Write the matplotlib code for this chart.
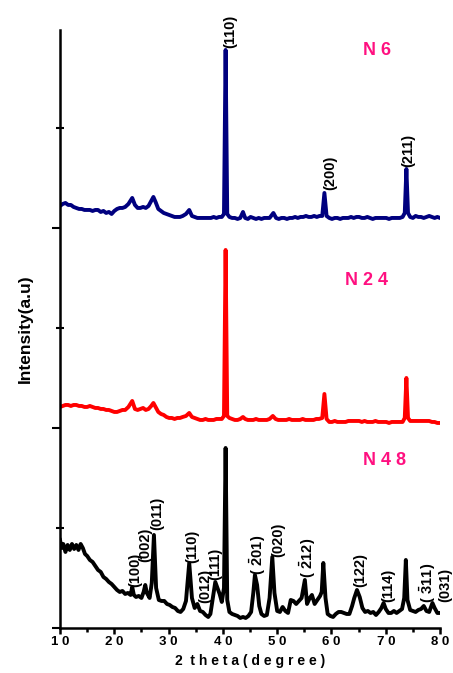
import numpy as np
import matplotlib
matplotlib.use('Agg')
import matplotlib.pyplot as plt
from matplotlib.ticker import MultipleLocator, FuncFormatter

plt.rcParams['font.family'] = ['Liberation Sans', 'DejaVu Sans']
plt.rcParams['mathtext.fontset'] = 'custom'
plt.rcParams['mathtext.rm'] = 'Liberation Sans'
plt.rcParams['mathtext.bf'] = 'Liberation Sans:bold'

# XRD patterns: (2 theta, intensity with stacking offset)
n6_pattern = [
    (10, 422), (10.5, 424), (11, 425), (11.5, 423), (12, 423), (12.5, 421), (13, 420), (13.5, 419),
    (14, 419), (14.5, 418), (15, 418), (15.5, 418), (16, 417), (16.5, 418), (17, 418), (17.5, 416),
    (18, 417), (18.5, 415), (19, 416), (19.5, 414), (20, 417), (20.5, 419), (21, 420), (21.5, 420),
    (22, 421), (22.6, 424), (23.3, 430), (23.8, 423), (24.3, 420), (24.8, 420), (25.3, 421), (25.8, 420),
    (26.3, 422), (26.8, 427), (27.2, 431), (27.6, 426), (28.1, 419), (28.6, 417), (29.1, 415), (29.6, 414),
    (30.1, 413), (30.6, 412), (31.1, 411), (31.6, 411), (32.1, 411), (32.6, 412), (33.2, 414), (33.8, 418),
    (34.3, 412), (34.8, 411), (35.3, 410), (35.8, 410), (36.3, 410), (36.8, 410), (37.3, 410), (37.8, 410),
    (38.3, 411), (38.8, 410), (39.3, 411), (39.8, 411), (40.2, 414), (40.5, 578), (40.8, 414), (41.2, 411),
    (41.7, 410), (42.2, 410), (42.7, 409), (43.2, 410), (43.7, 416), (44.1, 410), (44.6, 409), (45.1, 411),
    (45.6, 410), (46.1, 409), (46.6, 410), (47.1, 409), (47.6, 410), (48.1, 410), (48.6, 410), (49.3, 415),
    (49.8, 410), (50.3, 409), (50.8, 410), (51.3, 410), (51.8, 409), (52.3, 410), (52.8, 410), (53.3, 411),
    (53.8, 410), (54.3, 411), (54.8, 411), (55.3, 412), (55.8, 411), (56.3, 411), (56.8, 412), (57.3, 411),
    (57.8, 412), (58.3, 412), (58.7, 435), (59.1, 412), (59.6, 410), (60.1, 409), (60.6, 410), (61.1, 410),
    (61.6, 409), (62.1, 410), (62.6, 410), (63.1, 410), (63.6, 411), (64.1, 410), (64.6, 411), (65.1, 411),
    (65.6, 410), (66.1, 410), (66.6, 411), (67.1, 410), (67.6, 409), (68.1, 410), (68.6, 410), (69.1, 410),
    (69.6, 410), (70.1, 410), (70.6, 409), (71.1, 410), (71.6, 410), (72.1, 410), (72.6, 410), (73.1, 411),
    (73.5, 415), (73.8, 459), (74.1, 415), (74.5, 411), (75.0, 410), (75.5, 412), (76.0, 411), (76.5, 411),
    (77.0, 410), (77.5, 411), (78.0, 412), (78.5, 411), (79.0, 410), (79.5, 411), (80, 410),
]

n24_pattern = [
    (10, 221), (10.5, 222), (11, 223), (11.5, 223), (12, 222), (12.5, 223), (13, 223), (13.5, 222),
    (14, 222), (14.5, 221), (15, 221), (15.5, 222), (16, 221), (16.5, 220), (17, 220), (17.5, 219),
    (18, 219), (18.5, 218), (19, 218), (19.5, 217), (20, 216), (20.5, 216), (21, 217), (21.5, 218),
    (22, 218), (22.6, 221), (23.3, 227), (23.8, 219), (24.3, 218), (24.8, 219), (25.3, 220), (25.8, 218),
    (26.3, 219), (26.8, 222), (27.2, 225), (27.6, 221), (28.1, 216), (28.6, 214), (29.1, 213), (29.6, 211),
    (30.1, 210), (30.6, 210), (31.1, 209), (31.6, 210), (32.1, 210), (32.6, 211), (33.2, 212), (33.8, 215),
    (34.3, 211), (34.8, 210), (35.3, 209), (35.8, 208), (36.3, 208), (36.8, 209), (37.3, 208), (37.8, 208),
    (38.3, 208), (38.8, 209), (39.3, 209), (39.8, 209), (40.2, 212), (40.5, 378), (40.8, 212), (41.2, 210),
    (41.7, 209), (42.2, 208), (42.7, 208), (43.2, 209), (43.7, 211), (44.1, 209), (44.6, 208), (45.1, 208),
    (45.6, 208), (46.1, 209), (46.6, 208), (47.1, 208), (47.6, 208), (48.1, 208), (48.6, 209), (49.2, 212),
    (49.7, 209), (50.2, 208), (50.7, 208), (51.2, 208), (51.7, 208), (52.2, 209), (52.7, 208), (53.2, 208),
    (53.7, 208), (54.2, 208), (54.7, 209), (55.2, 208), (55.7, 208), (56.2, 208), (56.7, 208), (57.2, 209),
    (57.7, 209), (58.3, 210), (58.7, 234), (59.1, 209), (59.6, 206), (60.1, 206), (60.6, 207), (61.1, 206),
    (61.6, 206), (62.1, 206), (62.6, 206), (63.1, 207), (63.6, 207), (64.1, 207), (64.6, 207), (65.1, 207),
    (65.6, 206), (66.1, 207), (66.6, 206), (67.1, 206), (67.6, 206), (68.1, 207), (68.6, 206), (69.1, 206),
    (69.6, 206), (70.1, 206), (70.6, 205), (71.1, 206), (71.6, 206), (72.1, 206), (72.6, 206), (73.1, 206),
    (73.5, 210), (73.8, 250), (74.1, 210), (74.5, 207), (75.0, 207), (75.5, 207), (76.0, 207), (76.5, 207),
    (77.0, 207), (77.5, 207), (78.0, 207), (78.5, 206), (79.0, 206), (79.5, 205), (80, 205),
]

n48_pattern = [
    (10, 88), (10.3, 80), (10.6, 84), (11, 76), (11.4, 83), (11.8, 78), (12.2, 84), (12.6, 79),
    (13, 83), (13.4, 78), (13.8, 84), (14.2, 80), (14.6, 74), (15, 72), (15.5, 68), (16, 66),
    (16.5, 62), (17, 58), (17.5, 56), (18, 51), (18.5, 49), (19, 46), (19.5, 44), (20, 41),
    (20.5, 38), (21, 36), (21.5, 37), (22, 34), (22.5, 35), (23, 33), (23.3, 41), (23.6, 33),
    (24, 31), (24.5, 32), (25, 30), (25.4, 36), (25.7, 43), (26.0, 35), (26.5, 30), (26.9, 45),
    (27.3, 93), (27.7, 40), (28.2, 28), (28.7, 27), (29.2, 27), (29.7, 24), (30.2, 23), (30.7, 21),
    (31.2, 20), (31.7, 17), (32.2, 16), (32.7, 19), (33.2, 27), (33.8, 65), (34.3, 30), (34.8, 20),
    (35.3, 24), (35.8, 17), (36.3, 16), (36.8, 13), (37.3, 11), (37.7, 14), (38.1, 28), (38.6, 46),
    (39.0, 40), (39.4, 34), (39.8, 26), (40.2, 40), (40.5, 180), (40.8, 28), (41.2, 16), (41.7, 14),
    (42.2, 13), (42.7, 12), (43.2, 10), (43.7, 11), (44.2, 10), (44.7, 12), (45.2, 16), (45.6, 35),
    (45.9, 53), (46.3, 43), (46.7, 22), (47.1, 14), (47.6, 12), (48.1, 13), (48.6, 30), (49.1, 71),
    (49.5, 35), (50.0, 17), (50.5, 16), (51.0, 21), (51.5, 17), (52.0, 15), (52.5, 28), (53.0, 27),
    (53.5, 24), (54.0, 27), (54.5, 30), (55.1, 48), (55.5, 24), (56.0, 30), (56.4, 33), (56.9, 24),
    (57.4, 28), (57.9, 32), (58.2, 36), (58.5, 65), (58.9, 30), (59.3, 14), (59.8, 12), (60.3, 11),
    (60.8, 14), (61.3, 16), (61.8, 16), (62.3, 15), (62.8, 14), (63.3, 14), (63.8, 22), (64.2, 30),
    (64.7, 38), (65.2, 31), (65.7, 20), (66.2, 16), (66.7, 17), (67.2, 15), (67.7, 16), (68.2, 13),
    (68.7, 16), (69.2, 20), (69.6, 25), (70.0, 19), (70.5, 15), (71.0, 15), (71.5, 17), (72.0, 15),
    (72.5, 17), (73.0, 19), (73.4, 30), (73.7, 68), (74.0, 28), (74.5, 18), (75.0, 17), (75.5, 16),
    (76.0, 18), (76.5, 19), (77.0, 22), (77.5, 17), (78.0, 16), (78.6, 25), (79.0, 20), (79.5, 15),
    (80, 15),
]

# Miller index labels: (text, 2theta, label base height)
n6_labels = [('(110)', 41.3, 580), ('(200)', 59.7, 438), ('(211)', 74.1, 461)]
n48_labels = [
    ('(100)', 23.8, 41), ('(002)', 25.7, 66), ('(011)', 27.9, 98), ('(110)', 34.3, 65),
    ('(012)', 36.7, 25), ('(111)', 38.6, 48), (r'$\mathbf{(\ \bar{2}01)}$', 46.5, 53),
    ('(020)', 50.2, 71), (r'$\mathbf{(\ \bar{2}12)}$', 55.7, 50), ('(122)', 65.3, 41),
    ('(114)', 70.4, 26), (r'$\mathbf{(\ \bar{3}11)}$', 77.8, 25), ('(031)', 81.0, 26),
]

sample_names = ['N 6', 'N 2 4', 'N 4 8']
name_pos = [(65.8, 573), (62.5, 343), (65.8, 163)]
colors = ['#00007f', '#ff0000', '#000000']
pink = '#ff1080'

fig = plt.figure(figsize=(4.53, 6.73), dpi=100)
ax = fig.add_axes([0.1325, 0.0669, 0.8389, 0.8886])

for pat, c in zip([n6_pattern, n24_pattern, n48_pattern], colors):
    arr = np.array(pat)
    ax.plot(arr[:, 0], arr[:, 1], color=c, lw=2.8, solid_joinstyle='round')

for txt, xx, yy in n6_labels + n48_labels:
    ax.text(xx, yy, txt, rotation=90, ha='center', va='bottom', fontsize=10.5,
            fontweight='bold', clip_on=False)

for name, (xx, yy) in zip(sample_names, name_pos):
    ax.text(xx, yy, name, color=pink, fontsize=13, fontweight='bold', ha='left', va='baseline')

ax.set_xlim(10, 80)
ax.set_ylim(0, 598)
ax.spines['top'].set_visible(False)
ax.spines['right'].set_visible(False)
ax.spines['left'].set_linewidth(1.8)
ax.spines['bottom'].set_linewidth(1.8)

ax.xaxis.set_major_locator(MultipleLocator(10))
ax.xaxis.set_minor_locator(MultipleLocator(5))
ax.xaxis.set_major_formatter(FuncFormatter(lambda v, p: ' '.join(str(int(v)))))
ax.tick_params(axis='x', which='major', direction='out', length=4, width=1.8,
               labelsize=9.5, pad=2)
ax.tick_params(axis='x', which='minor', direction='out', length=3, width=1.8)
for lab in ax.get_xticklabels():
    lab.set_fontweight('bold')

ax.yaxis.set_major_locator(MultipleLocator(200))
ax.yaxis.set_minor_locator(MultipleLocator(100))
ax.tick_params(axis='y', which='major', direction='out', length=6, width=1.5, labelleft=False)
ax.tick_params(axis='y', which='minor', direction='inout', length=6, width=1.5)

ax.set_xlabel('2  t h e t a ( d e g r e e )', fontsize=10, fontweight='bold', labelpad=4)
ax.set_ylabel('Intensity(a.u)', fontsize=12.5, fontweight='bold', labelpad=13)

fig.savefig('out.png', dpi=100)
